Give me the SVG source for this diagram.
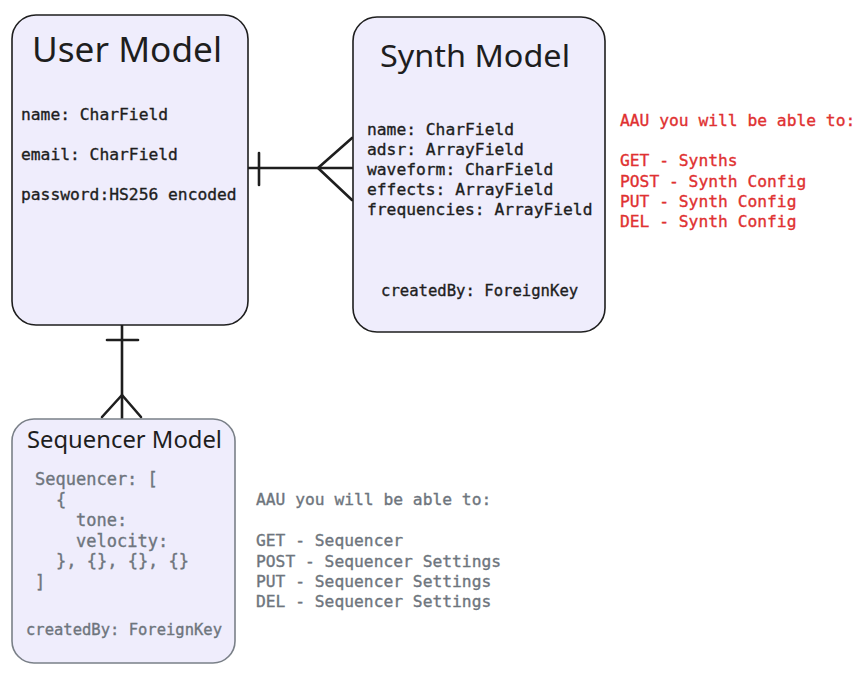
<svg xmlns="http://www.w3.org/2000/svg" width="868" height="679" viewBox="0 0 868 679">
<style>
.box{fill:#efedfc;stroke:#1e1e1e;stroke-width:1.6}
.box2{fill:#efedfc;stroke:#7a8088;stroke-width:1.6}
.title{font-family:"Noto Sans","DejaVu Sans",sans-serif;fill:#1e1e1e}
.mono{font-family:"DejaVu Sans Mono","Liberation Mono",monospace;fill:#1e1e1e;stroke:#1e1e1e;stroke-width:0.35;font-size:16.3px}
.gray{fill:#6e757d;stroke:#6e757d}
.red{fill:#e03131;stroke:#e03131}
.conn{stroke:#1e1e1e;stroke-width:2.6;fill:none;stroke-linecap:round;stroke-linejoin:round}
</style>
<rect width="868" height="679" fill="#ffffff"/>
<g id="connectors">
  <path class="conn" d="M248 168 H352"/>
  <path class="conn" d="M259 153 V185"/>
  <path class="conn" d="M352 138 L318 168 L352 200"/>
  <path class="conn" d="M122 325 V419"/>
  <path class="conn" d="M107 340 H138"/>
  <path class="conn" d="M102 417 L122 395 L141 417"/>
</g>
<g id="user-model">
  <rect class="box" x="12" y="15" width="236" height="310" rx="24"/>
  <text class="title" x="32" y="62" font-size="34" textLength="190" lengthAdjust="spacingAndGlyphs">User Model</text>
  <text class="mono" x="21" y="120">name: CharField</text>
  <text class="mono" x="21" y="160">email: CharField</text>
  <text class="mono" x="21" y="200">password:HS256 encoded</text>
</g>
<g id="synth-model">
  <rect class="box" x="353" y="17" width="252" height="315" rx="24"/>
  <text class="title" x="380" y="67" font-size="31" textLength="190" lengthAdjust="spacingAndGlyphs">Synth Model</text>
  <text class="mono" x="367" y="135">name: CharField</text>
  <text class="mono" x="367" y="155">adsr: ArrayField</text>
  <text class="mono" x="367" y="175">waveform: CharField</text>
  <text class="mono" x="367" y="195">effects: ArrayField</text>
  <text class="mono" x="367" y="215">frequencies: ArrayField</text>
  <text class="mono" style="font-size:15.6px" x="381" y="296">createdBy: ForeignKey</text>
</g>
<g id="synth-notes">
  <text class="mono red" x="620" y="126">AAU you will be able to:</text>
  <text class="mono red" x="620" y="166">GET - Synths</text>
  <text class="mono red" x="620" y="187">POST - Synth Config</text>
  <text class="mono red" x="620" y="207">PUT - Synth Config</text>
  <text class="mono red" x="620" y="227">DEL - Synth Config</text>
</g>
<g id="sequencer-model">
  <rect class="box2" x="12" y="419" width="223" height="244" rx="22"/>
  <text class="title" x="27" y="448" font-size="24" textLength="195" lengthAdjust="spacingAndGlyphs">Sequencer Model</text>
  <text class="mono gray" style="font-size:17px" x="35" y="485">Sequencer: [</text>
  <text class="mono gray" style="font-size:17px" x="56" y="506">{</text>
  <text class="mono gray" style="font-size:17px" x="76" y="526">tone:</text>
  <text class="mono gray" style="font-size:17px" x="76" y="547">velocity:</text>
  <text class="mono gray" style="font-size:17px" x="56" y="567">}, {}, {}, {}</text>
  <text class="mono gray" style="font-size:17px" x="35" y="588">]</text>
  <text class="mono gray" style="font-size:15.5px" x="26" y="635">createdBy: ForeignKey</text>
</g>
<g id="sequencer-notes">
  <text class="mono gray" x="256" y="505">AAU you will be able to:</text>
  <text class="mono gray" x="256" y="546">GET - Sequencer</text>
  <text class="mono gray" x="256" y="567">POST - Sequencer Settings</text>
  <text class="mono gray" x="256" y="587">PUT - Sequencer Settings</text>
  <text class="mono gray" x="256" y="607">DEL - Sequencer Settings</text>
</g>
</svg>
